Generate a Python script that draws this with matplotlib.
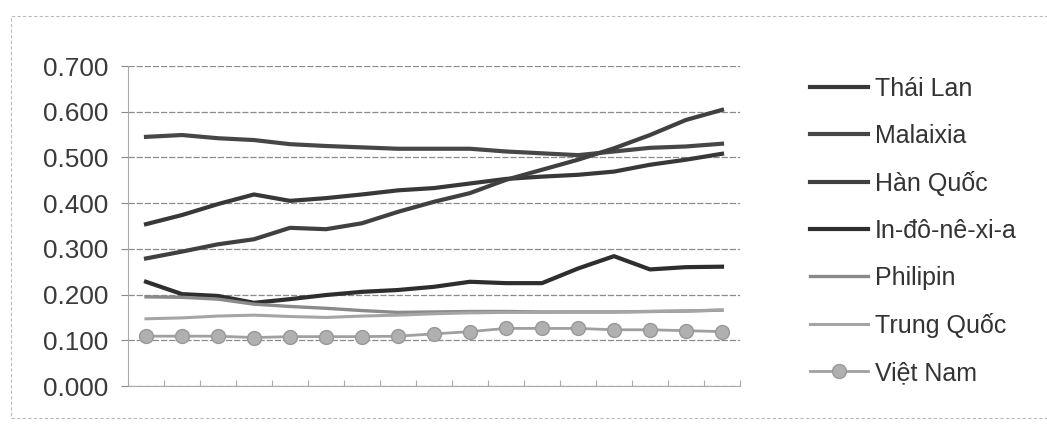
import matplotlib
matplotlib.use('Agg')
import matplotlib.pyplot as plt
import numpy as np
from matplotlib.patches import Rectangle

plt.rcParams['font.family'] = ['Liberation Sans', 'DejaVu Sans']

# 17 periods, no category labels shown on the axis
periods = list(range(17))

thai_lan = [0.354, 0.374, 0.398, 0.419, 0.405, 0.411, 0.419, 0.428, 0.433, 0.443,
            0.453, 0.458, 0.462, 0.469, 0.484, 0.495, 0.508]
malaixia = [0.545, 0.549, 0.542, 0.538, 0.529, 0.525, 0.522, 0.519, 0.519, 0.519,
            0.513, 0.509, 0.505, 0.513, 0.521, 0.524, 0.530]
han_quoc = [0.279, 0.294, 0.310, 0.321, 0.346, 0.343, 0.356, 0.381, 0.403, 0.422,
            0.451, 0.473, 0.495, 0.520, 0.549, 0.582, 0.604]
indonesia = [0.228, 0.201, 0.197, 0.182, 0.190, 0.199, 0.206, 0.210, 0.217, 0.228,
             0.225, 0.225, 0.257, 0.284, 0.255, 0.260, 0.261]
philipin = [0.195, 0.194, 0.190, 0.179, 0.174, 0.170, 0.165, 0.161, 0.162, 0.163,
            0.163, 0.162, 0.162, 0.162, 0.163, 0.164, 0.166]
trung_quoc = [0.147, 0.149, 0.153, 0.155, 0.152, 0.150, 0.153, 0.155, 0.158, 0.160,
              0.161, 0.161, 0.162, 0.162, 0.163, 0.164, 0.166]
viet_nam = [0.109, 0.109, 0.109, 0.106, 0.108, 0.108, 0.108, 0.109, 0.114, 0.119,
            0.126, 0.126, 0.126, 0.123, 0.123, 0.121, 0.119]

labels = ['Thái Lan', 'Malaixia', 'Hàn Quốc', 'In-đô-nê-xi-a', 'Philipin', 'Trung Quốc', 'Việt Nam']
yticks = [0.0, 0.1, 0.2, 0.3, 0.4, 0.5, 0.6, 0.7]

fig = plt.figure(figsize=(10.47, 4.26), dpi=100)
ax = fig.add_axes([128 / 1047, 1 - 386 / 426, 612 / 1047, 320 / 426])

# chart area border
fig.patches.append(Rectangle((11 / 1047, 1 - 418 / 426), 1.1, 402 / 426, transform=fig.transFigure,
                             fill=False, edgecolor='#bbbbbb', lw=0.8, linestyle=(0, (3, 2))))

ax.plot(periods, thai_lan, color='#383838', lw=3.0, label=labels[0])
ax.plot(periods, malaixia, color='#474747', lw=3.0, label=labels[1])
ax.plot(periods, han_quoc, color='#404040', lw=3.0, label=labels[2])
ax.plot(periods, indonesia, color='#2e2e2e', lw=3.0, label=labels[3])
ax.plot(periods, philipin, color='#8a8a8a', lw=2.4, label=labels[4])
ax.plot(periods, trung_quoc, color='#a5a5a5', lw=2.2, label=labels[5])
ax.plot(periods, viet_nam, color='#a0a0a0', lw=2.0, marker='o', markersize=10,
        markerfacecolor='#b0b0b0', markeredgecolor='#999999', label=labels[6])

ax.set_xlim(-0.5, 16.5)
ax.set_ylim(0, 0.7)
ax.set_yticks(yticks)
ax.set_yticklabels(['%.3f' % v for v in yticks], fontsize=18.8, color='#3a3a3a')
ax.set_xticks(np.arange(-0.5, 17, 1))
ax.set_xticklabels([])
ax.tick_params(axis='x', length=4, color='#aaaaaa', direction='in')
ax.tick_params(axis='y', length=5, color='#888888', pad=9)
ax.grid(axis='y', color='#8c8c8c', lw=0.9, linestyle=(0, (5, 1.5)))
ax.set_axisbelow(True)
for side in ['top', 'right']:
    ax.spines[side].set_visible(False)
ax.spines['left'].set_color('#aaaaaa')
ax.spines['bottom'].set_color('#aaaaaa')
ax.spines['bottom'].set_linestyle((0, (2, 1)))

leg = ax.legend(loc='upper left', bbox_to_anchor=(800 / 1047, 1 - 67 / 426), bbox_transform=fig.transFigure,
                frameon=False, fontsize=18, handlelength=2.3, handletextpad=0.3, labelspacing=0.92,
                borderaxespad=0)
for t in leg.get_texts():
    t.set_color('#333333')

fig.savefig('out.png', dpi=100)
